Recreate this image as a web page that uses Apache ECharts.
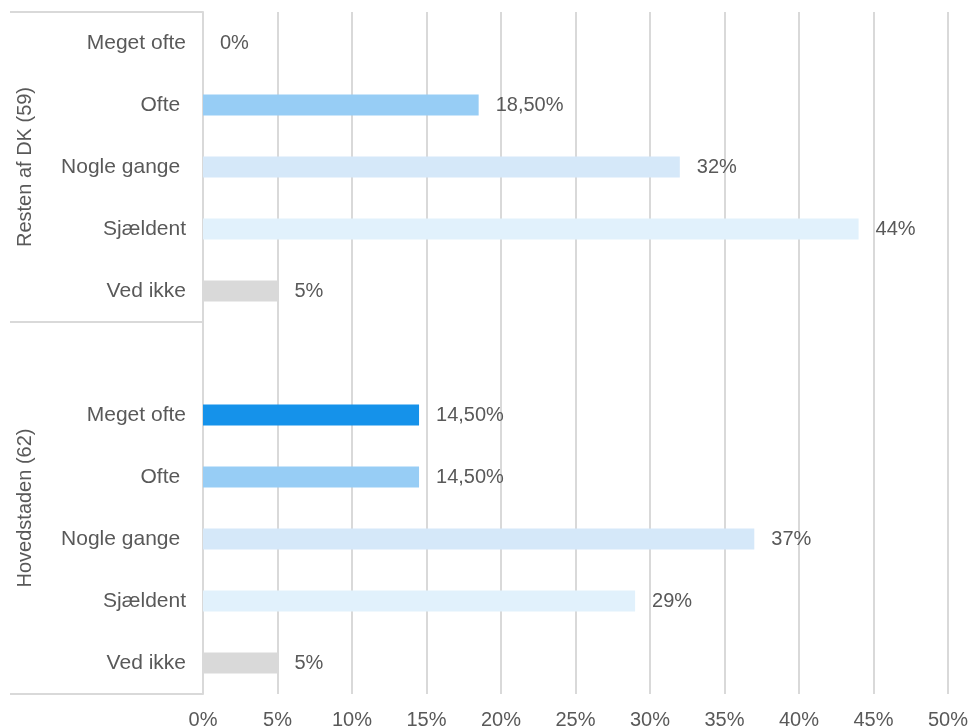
<!DOCTYPE html>
<html>
<head>
<meta charset="utf-8">
<script src="https://cdn.jsdelivr.net/npm/echarts@6/dist/echarts.min.js"></script>
<style>
  html, body { margin: 0; padding: 0; background: #ffffff; }
  #chart { width: 972px; height: 728px; }
</style>
</head>
<body>
<div id="chart"></div>
<script>
// Survey answers per region, shares in percent
const groups = ['Resten af DK (59)', 'Hovedstaden (62)'];
const responses = ['Meget ofte', 'Ofte ', 'Nogle gange ', 'Sjældent', 'Ved ikke'];
const restenValues = [0, 18.5, 32, 44, 5];
const hovedstadenValues = [14.5, 14.5, 37, 29, 5];
const responseColors = ['#1592ea', '#97cdf5', '#d5e8f9', '#e1f1fc', '#d9d9d9'];
const xTicks = [0, 5, 10, 15, 20, 25, 30, 35, 40, 45, 50];

// Rows top to bottom: first group, an empty spacer row, second group
const rowLabels = [...responses, '', ...responses];
const rowValues = [...restenValues, null, ...hovedstadenValues];
const rowColors = [...responseColors, null, ...responseColors];

// Group boundaries and centres on the row scale (0 = top edge, 11 = bottom edge)
const groupEdges = [0, 5, 11];
const groupCentres = [2.5, 8];

const textColor = '#595959';
const lineColor = '#d9d9d9';
const font = 'Liberation Sans, Arial, sans-serif';

function pct(v) {
  if (Number.isInteger(v)) return v + '%';
  return v.toFixed(2).replace('.', ',') + '%';
}

const chart = echarts.init(document.getElementById('chart'), null, { renderer: 'canvas' });
chart.setOption({
  animation: false,
  backgroundColor: '#ffffff',
  textStyle: { fontFamily: font },
  grid: {
    left: 203, right: 24, top: 12, bottom: 34,
    containLabel: false, outerBoundsMode: 'none'
  },
  xAxis: {
    type: 'value',
    min: xTicks[0],
    max: xTicks[xTicks.length - 1],
    interval: 5,
    axisLine: { show: false },
    axisTick: { show: false },
    axisLabel: {
      color: textColor, fontSize: 20, fontFamily: font, margin: 16,
      formatter: v => v + '%'
    },
    splitLine: { show: true, lineStyle: { color: lineColor, width: 2 } }
  },
  yAxis: [
    {
      type: 'category',
      data: rowLabels,
      inverse: true,
      axisLine: { show: true, lineStyle: { color: lineColor, width: 2 } },
      axisTick: { show: false },
      axisLabel: {
        color: textColor, fontSize: 21, fontFamily: font, margin: 17, interval: 0,
        padding: [3, 0, 0, 0]
      },
      splitLine: { show: false }
    },
    {
      type: 'value',
      position: 'left',
      min: 0,
      max: 11,
      inverse: true,
      axisLine: { show: false },
      axisTick: {
        show: true, length: 193, customValues: groupEdges,
        lineStyle: { color: lineColor, width: 2 }
      },
      axisLabel: {
        show: true, customValues: groupCentres, rotate: 90, margin: 168,
        color: textColor, fontSize: 20, fontFamily: font,
        formatter: v => groups[groupCentres.indexOf(v)] || ''
      },
      splitLine: { show: false }
    }
  ],
  series: [{
    type: 'bar',
    xAxisIndex: 0,
    yAxisIndex: 0,
    barWidth: 21,
    data: rowValues.map((v, i) => v === null ? null : {
      value: v,
      itemStyle: { color: rowColors[i] }
    }),
    label: {
      show: true,
      position: 'right',
      distance: 17,
      color: textColor,
      fontSize: 20,
      fontFamily: font,
      padding: [3, 0, 0, 0],
      formatter: p => (p.value === null || p.value === undefined) ? '' : pct(p.value)
    }
  }]
});
</script>
</body>
</html>
